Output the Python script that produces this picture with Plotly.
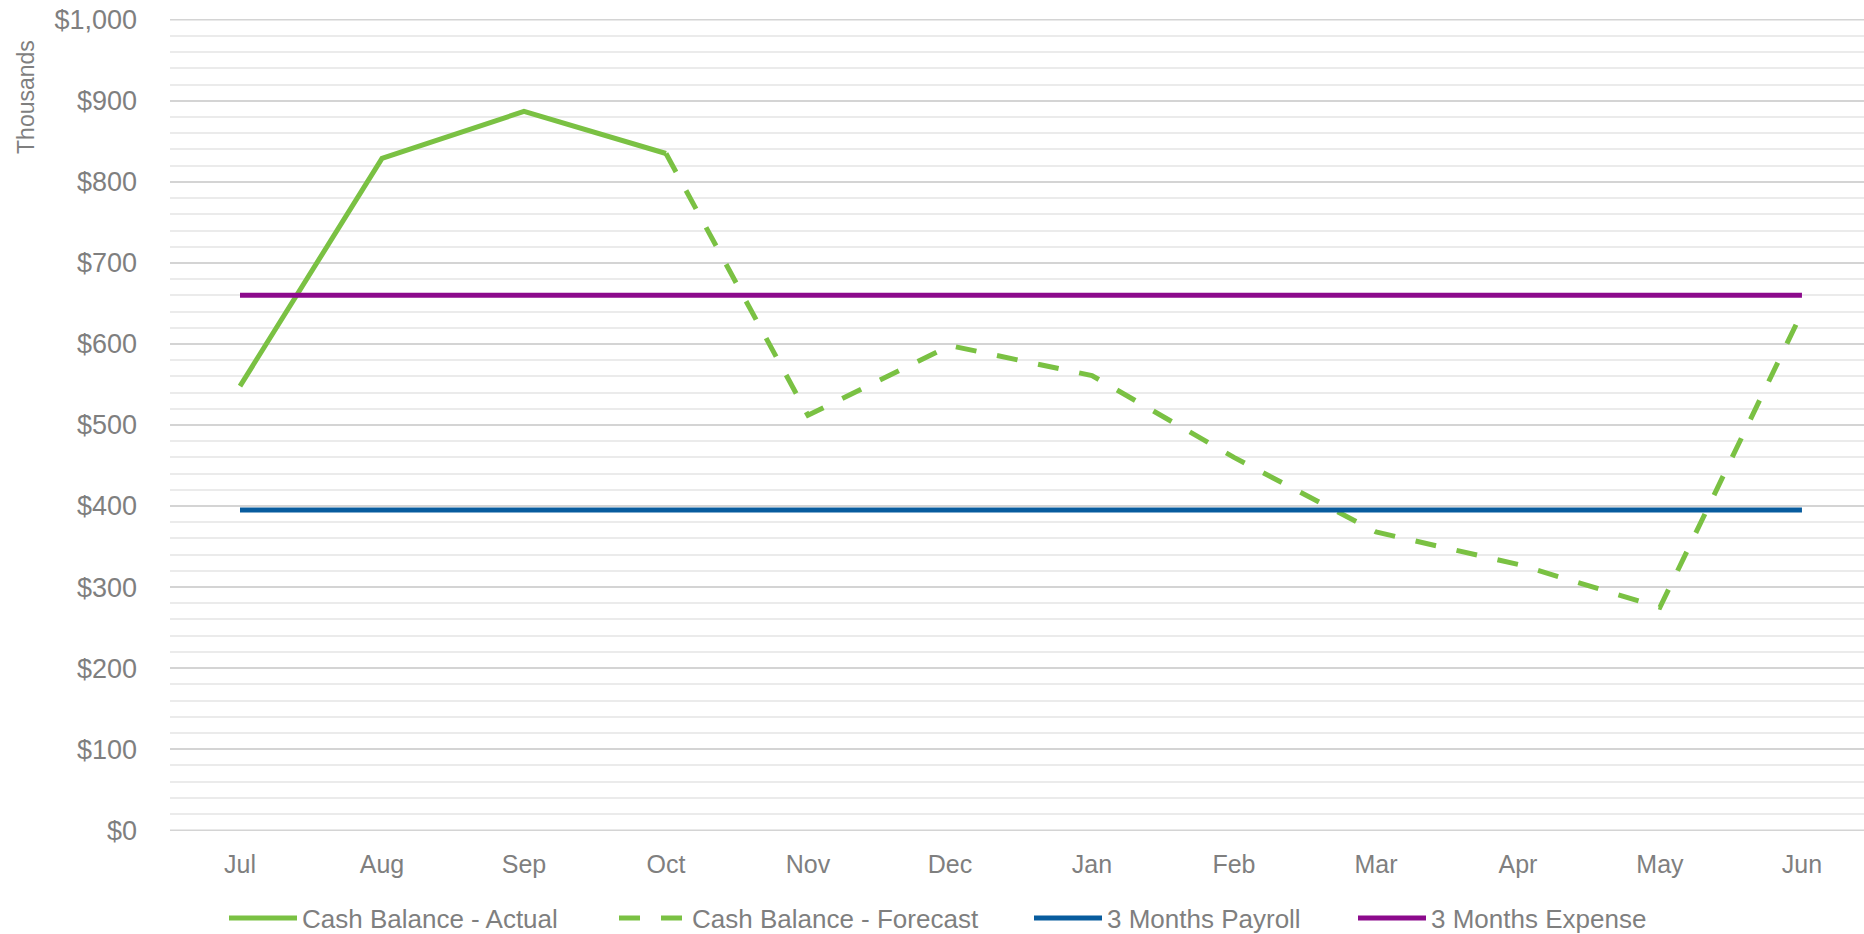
import plotly.graph_objects as go

months = ["Jul", "Aug", "Sep", "Oct", "Nov", "Dec", "Jan", "Feb", "Mar", "Apr", "May", "Jun"]
cash_actual = [548, 829, 887, 835, None, None, None, None, None, None, None, None]
cash_forecast = [None, None, None, 835, 512, 598, 561, 460, 368, 328, 275, 639]
payroll_3m = [395, 395, 395, 395, 395, 395, 395, 395, 395, 395, 395, 395]
expense_3m = [660, 660, 660, 660, 660, 660, 660, 660, 660, 660, 660, 660]
y_ticks = [0, 100, 200, 300, 400, 500, 600, 700, 800, 900, 1000]
y_tick_labels = ["$0", "$100", "$200", "$300", "$400", "$500", "$600", "$700", "$800", "$900", "$1,000"]

GREEN = "#7ac143"
BLUE = "#085c9e"
PURPLE = "#8c0a8c"
TEXT = "#7f7f7f"
MAJOR_GRID = "#d4d4d4"
FONT = "Liberation Sans"
W, H = 1864, 934

fig = go.Figure()
fig.add_trace(go.Scatter(x=months, y=cash_actual, mode="lines", name="Cash Balance - Actual",
                         line=dict(color=GREEN, width=5), legend="legend"))
fig.add_trace(go.Scatter(x=months, y=cash_forecast, mode="lines", name="Cash Balance - Forecast",
                         line=dict(color=GREEN, width=5, dash="21px,21px"), legend="legend2"))
fig.add_trace(go.Scatter(x=months, y=payroll_3m, mode="lines", name="3 Months Payroll",
                         line=dict(color=BLUE, width=5), legend="legend3"))
fig.add_trace(go.Scatter(x=months, y=expense_3m, mode="lines", name="3 Months Expense",
                         line=dict(color=PURPLE, width=5), legend="legend4"))

def leg(px_left):
    return dict(orientation="h", xref="container", yref="container",
                x=px_left / W, xanchor="left", y=1 - 918 / H, yanchor="middle",
                font=dict(family=FONT, size=26, color=TEXT),
                itemwidth=68, bgcolor="rgba(0,0,0,0)")

# edge gridlines ($0 and $1,000) which plotly skips at the very plot edges
edge_lines = [dict(type="line", xref="paper", x0=0, x1=1, yref="y", y0=v, y1=v,
                   layer="below", line=dict(color=MAJOR_GRID, width=1.5))
              for v in (y_ticks[0], y_ticks[-1])]

fig.update_layout(
    width=W, height=H,
    margin=dict(l=170, r=0, t=19, b=103),
    paper_bgcolor="white", plot_bgcolor="white",
    font=dict(family=FONT, size=24, color=TEXT),
    showlegend=True,
    legend=leg(224), legend2=leg(614), legend3=leg(1029), legend4=leg(1353),
    xaxis=dict(type="category", range=[-0.493, 11.437], showgrid=False, zeroline=False,
               showline=False, ticks="", ticklabelstandoff=16,
               tickfont=dict(family=FONT, size=25, color=TEXT), automargin=False),
    yaxis=dict(range=[-1, 1001], tickmode="array", tickvals=y_ticks, ticktext=y_tick_labels,
               showgrid=True, gridcolor=MAJOR_GRID, gridwidth=1.5,
               zeroline=False, showline=False, ticks="", ticklabelstandoff=32,
               tickfont=dict(family=FONT, size=27, color=TEXT), automargin=False,
               minor=dict(dtick=20, tick0=0, showgrid=True, gridcolor="#ebebeb", gridwidth=1.5)),
    shapes=edge_lines,
    annotations=[dict(text="Thousands", xref="paper", yref="paper",
                      x=-0.085, y=0.904, xanchor="center", yanchor="middle",
                      textangle=-90, showarrow=False,
                      font=dict(family=FONT, size=23, color=TEXT))],
)

fig.write_html("out.html", config={"displayModeBar": False},
               post_script="document.body.style.margin='0';")
